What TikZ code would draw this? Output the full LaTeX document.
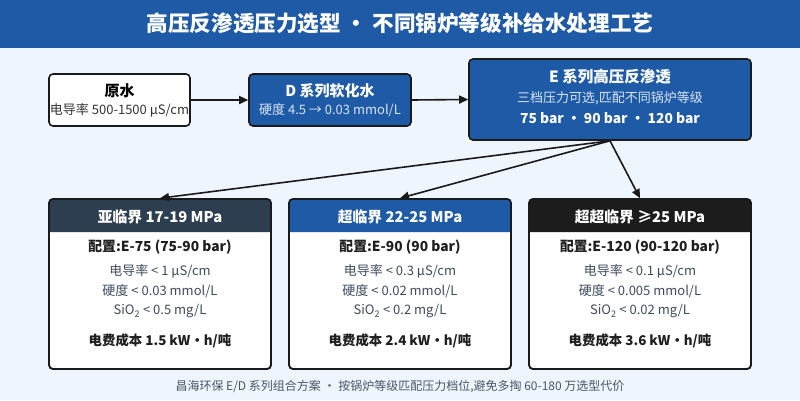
\documentclass[tikz,border=0pt]{standalone}
\usepackage{fontspec}
\setmainfont{Noto Sans CJK SC}
\usetikzlibrary{arrows.meta}
\definecolor{bg}{HTML}{EEF5FD}
\definecolor{titleblue}{HTML}{1F5AA6}
\definecolor{boxblue}{HTML}{1F5AA6}
\definecolor{edge}{HTML}{1A1A1A}
\definecolor{slate}{HTML}{2C3E50}
\definecolor{nearblack}{HTML}{1C1C1C}
\definecolor{graytext}{HTML}{3F4C5E}
\definecolor{lighttext}{HTML}{D8E6F7}
\definecolor{foot}{HTML}{4A5568}
\tikzset{
  x=1pt, y=-1pt,
  box/.style={draw=edge, line width=1.6pt, rounded corners=4pt, inner sep=0pt},
  arr/.style={draw=edge, line width=1.6pt, -{Triangle[length=9pt,width=8pt]}},
  txt/.style={inner sep=0pt, anchor=center},
  hd/.style={txt, font=\bfseries\fontsize{15}{18}\selectfont},
  sb/.style={txt, font=\fontsize{13}{16}\selectfont},
  th/.style={txt, text=white, font=\bfseries\fontsize{14.8}{18}\selectfont},
  cfg/.style={txt, font=\bfseries\fontsize{13.8}{17}\selectfont, text=black!88},
  cost/.style={txt, font=\bfseries\fontsize{13.4}{16}\selectfont, text=black!88},
  spec/.style={txt, font=\fontsize{13}{16}\selectfont, text=graytext},
}
\begin{document}
\begin{tikzpicture}
\useasboundingbox (0,0) rectangle (800,400);
\fill[bg] (0,0) rectangle (800,400);
\fill[titleblue] (0,0) rectangle (800,48);
\node[txt, text=white, font=\bfseries\fontsize{21.6}{25}\selectfont] (title) at (400,23) {高压反渗透压力选型 ・ 不同锅炉等级补给水处理工艺};

% top row
\node[box, fill=white, minimum width=141pt, minimum height=52pt] (raw) at (119.5,100) {};
\node[hd] (rawt) at (119.5,91) {原水};
\node[sb, text=black!80] (raws) at (119.5,110) {电导率 500-1500 µS/cm};

\node[box, fill=boxblue, minimum width=162pt, minimum height=52pt] (dsoft) at (330,100) {};
\node[hd, text=white] (dsoftt) at (330,91) {D 系列软化水};
\node[sb, text=lighttext] (dsofts) at (330,110) {硬度 4.5 → 0.03 mmol/L};

\node[box, fill=boxblue, minimum width=282pt, minimum height=81pt] (ero) at (610,99.5) {};
\node[hd, text=white, font=\bfseries\fontsize{15.5}{19}\selectfont] (erot) at (610,77) {E 系列高压反渗透};
\node[sb, text=lighttext] (eros) at (610,98) {三档压力可选,匹配不同锅炉等级};
\node[hd, text=white, font=\bfseries\fontsize{13.8}{17}\selectfont] (erob) at (610,118) {75 bar ・ 90 bar ・ 120 bar};

\draw[arr] (raw.east) -- (dsoft.west);
\draw[arr] (dsoft.east) -- (ero.west);

% tier boxes
\foreach \n/\cx/\hc in {t1/160/slate, t2/400/boxblue, t3/640/nearblack}{
  \node[box, fill=white, minimum width=222pt, minimum height=170pt] (\n) at (\cx,284) {};
  \fill[\hc] (\cx-111,232) [rounded corners=4pt] -- (\cx-111,199) -- (\cx+111,199) [sharp corners] -- (\cx+111,232) -- cycle;
  \draw[edge, line width=1.6pt, rounded corners=4pt] (\cx-111,199) rectangle (\cx+111,369);
}

\node[th] (t1h) at (160,216.5) {亚临界 17-19 MPa};
\node[cfg] (t1c) at (160,247) {配置:E-75 (75-90 bar)};
\node[spec] (t1a) at (160,271) {电导率 < 1 µS/cm};
\node[spec] (t1b) at (160,291) {硬度 < 0.03 mmol/L};
\node[spec] (t1d) at (160,311) {SiO\textsubscript{2} < 0.5 mg/L};
\node[cost] (t1e) at (160,341) {电费成本 1.5 kW・h/吨};

\node[th] (t2h) at (400,216.5) {超临界 22-25 MPa};
\node[cfg] (t2c) at (400,247) {配置:E-90 (90 bar)};
\node[spec] (t2a) at (400,271) {电导率 < 0.3 µS/cm};
\node[spec] (t2b) at (400,291) {硬度 < 0.02 mmol/L};
\node[spec] (t2d) at (400,311) {SiO\textsubscript{2} < 0.2 mg/L};
\node[cost] (t2e) at (400,341) {电费成本 2.4 kW・h/吨};

\node[th] (t3h) at (640,216.5) {超超临界 ≥25 MPa};
\node[cfg] (t3c) at (640,247) {配置:E-120 (90-120 bar)};
\node[spec] (t3a) at (640,271) {电导率 < 0.1 µS/cm};
\node[spec] (t3b) at (640,291) {硬度 < 0.005 mmol/L};
\node[spec] (t3d) at (640,311) {SiO\textsubscript{2} < 0.02 mg/L};
\node[cost] (t3e) at (640,341) {电费成本 3.6 kW・h/吨};

\draw[arr] (ero.south) -- (t1.north);
\draw[arr] (ero.south) -- (t2.north);
\draw[arr] (ero.south) -- (t3.north);

\node[txt, text=foot, font=\fontsize{12}{14}\selectfont] (footer) at (400,387) {昌海环保 E/D 系列组合方案 ・ 按锅炉等级匹配压力档位,避免多掏 60-180 万选型代价};
\end{tikzpicture}
\end{document}
